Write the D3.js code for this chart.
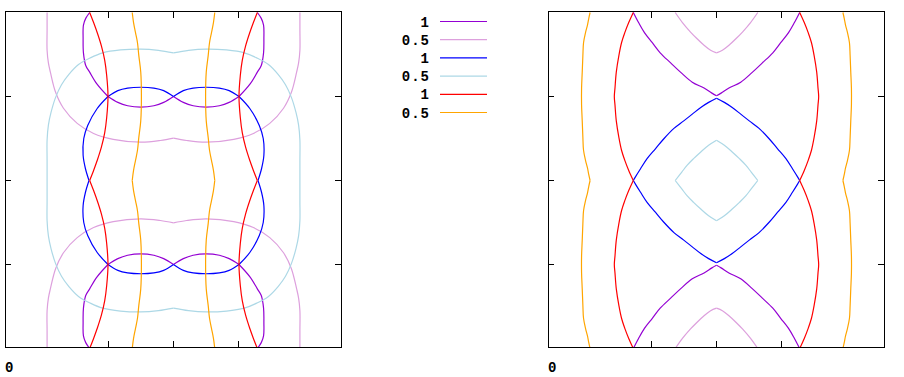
<!DOCTYPE html>
<html>
<head>
<meta charset="utf-8">
<script src="https://d3js.org/d3.v7.min.js"></script>
<style>
  body { margin: 0; background: #ffffff; }
  text { font-family: "Liberation Mono", "DejaVu Sans Mono", monospace; font-weight: bold; font-size: 14px; letter-spacing: 1px; fill: #000; }
</style>
</head>
<body>
<svg id="chart" width="904" height="377"></svg>
<script>

// Axis settings (no tick labels except the corner "0")
var xDomain = [-2.565, 2.565];
var yDomain = [-2, 2];
var xTicks = [-1, 0, 1];
var yTicks = [-1, 0, 1];
var cornerLabel = '0';

// Contour levels as shown in the key
var levelLabels = ['1', '0.5', '1', '0.5', '1', '0.5'];

// ---- Left panel contours, one list of pieces per level ----
var leftPurple = [
  [[-1.28,2],[-1.34,1.93],[-1.375,1.85],[-1.38,1.69],[-1.375,1.52],[-1.34,1.37],[-1.28,1.29],[-1.17,1.15],[-1,1]],
  [[-1,1],[-0.85,0.93],[-0.7,0.89],[-0.5,0.873],[-0.3,0.89],[-0.15,0.93],[0,1]],
  [[0,1],[0.15,0.93],[0.3,0.89],[0.5,0.873],[0.7,0.89],[0.85,0.93],[1,1]],
  [[1,1],[1.17,1.15],[1.28,1.29],[1.34,1.37],[1.375,1.52],[1.38,1.69],[1.375,1.85],[1.34,1.93],[1.28,2]],
  [[-1.28,-2],[-1.34,-1.93],[-1.375,-1.85],[-1.38,-1.69],[-1.375,-1.52],[-1.34,-1.37],[-1.28,-1.29],[-1.17,-1.15],[-1,-1]],
  [[-1,-1],[-0.85,-0.93],[-0.7,-0.89],[-0.5,-0.873],[-0.3,-0.89],[-0.15,-0.93],[0,-1]],
  [[0,-1],[0.15,-0.93],[0.3,-0.89],[0.5,-0.873],[0.7,-0.89],[0.85,-0.93],[1,-1]],
  [[1,-1],[1.17,-1.15],[1.28,-1.29],[1.34,-1.37],[1.375,-1.52],[1.38,-1.69],[1.375,-1.85],[1.34,-1.93],[1.28,-2]]
];

var leftPink = [
  [[-1.93,2],[-1.93,1.79],[-1.93,1.55],[-1.91,1.4],[-1.88,1.29],[-1.8,1.05],[-1.68,0.86],[-1.47,0.68],[-1.22,0.56],[-0.92,0.49],[-0.5,0.456],[-0.2,0.476],[0,0.504]],
  [[0,0.504],[0.2,0.476],[0.5,0.456],[0.92,0.49],[1.22,0.56],[1.47,0.68],[1.68,0.86],[1.8,1.05],[1.88,1.29],[1.91,1.4],[1.93,1.55],[1.93,1.79],[1.93,2]],
  [[-1.93,-2],[-1.93,-1.79],[-1.93,-1.55],[-1.91,-1.4],[-1.88,-1.29],[-1.8,-1.05],[-1.68,-0.86],[-1.47,-0.68],[-1.22,-0.56],[-0.92,-0.49],[-0.5,-0.456],[-0.2,-0.476],[0,-0.504]],
  [[0,-0.504],[0.2,-0.476],[0.5,-0.456],[0.92,-0.49],[1.22,-0.56],[1.47,-0.68],[1.68,-0.86],[1.8,-1.05],[1.88,-1.29],[1.91,-1.4],[1.93,-1.55],[1.93,-1.79],[1.93,-2]]
];

var leftBlue = [
  [[0,1],[-0.15,1.07],[-0.3,1.1],[-0.5,1.11],[-0.7,1.1],[-0.85,1.07],[-1,1]],
  [[-1,1],[-1.165,0.857],[-1.31,0.655],[-1.37,0.5],[-1.38,0.3],[-1.345,0.143],[-1.29,0]],
  [[-1.29,0],[-1.345,-0.143],[-1.38,-0.3],[-1.37,-0.5],[-1.31,-0.655],[-1.165,-0.857],[-1,-1]],
  [[-1,-1],[-0.85,-1.07],[-0.7,-1.1],[-0.5,-1.11],[-0.3,-1.1],[-0.15,-1.07],[0,-1]],
  [[0,-1],[0.15,-1.07],[0.3,-1.1],[0.5,-1.11],[0.7,-1.1],[0.85,-1.07],[1,-1]],
  [[1,-1],[1.165,-0.857],[1.31,-0.655],[1.37,-0.5],[1.38,-0.3],[1.345,-0.143],[1.29,0]],
  [[1.29,0],[1.345,0.143],[1.38,0.3],[1.37,0.5],[1.31,0.655],[1.165,0.857],[1,1]],
  [[1,1],[0.85,1.07],[0.7,1.1],[0.5,1.11],[0.3,1.1],[0.15,1.07],[0,1]]
];

var leftLightBlue = [
  [[0,1.52],[-0.23,1.55],[-0.5,1.565],[-0.81,1.554],[-1.08,1.52],[-1.27,1.46],[-1.45,1.38],[-1.6,1.26],[-1.71,1.14],[-1.8,0.99],[-1.87,0.81],[-1.91,0.66],[-1.93,0.48],[-1.93,0.24],[-1.93,0],
   [-1.93,-0.24],[-1.93,-0.48],[-1.91,-0.66],[-1.87,-0.81],[-1.8,-0.99],[-1.71,-1.14],[-1.6,-1.26],[-1.45,-1.38],[-1.27,-1.46],[-1.08,-1.52],[-0.81,-1.554],[-0.5,-1.565],[-0.23,-1.55],[0,-1.52]],
  [[0,1.52],[0.23,1.55],[0.5,1.565],[0.81,1.554],[1.08,1.52],[1.27,1.46],[1.45,1.38],[1.6,1.26],[1.71,1.14],[1.8,0.99],[1.87,0.81],[1.91,0.66],[1.93,0.48],[1.93,0.24],[1.93,0],
   [1.93,-0.24],[1.93,-0.48],[1.91,-0.66],[1.87,-0.81],[1.8,-0.99],[1.71,-1.14],[1.6,-1.26],[1.45,-1.38],[1.27,-1.46],[1.08,-1.52],[0.81,-1.554],[0.5,-1.565],[0.23,-1.55],[0,-1.52]]
];

var leftRed = [
  [[-1.28,2],[-1.22,1.88],[-1.16,1.75],[-1.1,1.6],[-1.05,1.43],[-1.02,1.25],[-1,1],[-1.02,0.75],[-1.05,0.57],[-1.1,0.4],[-1.16,0.25],[-1.22,0.12],[-1.28,0]],
  [[-1.28,0],[-1.22,-0.12],[-1.16,-0.25],[-1.1,-0.4],[-1.05,-0.57],[-1.02,-0.75],[-1,-1],[-1.02,-1.25],[-1.05,-1.43],[-1.1,-1.6],[-1.16,-1.75],[-1.22,-1.88],[-1.28,-2]],
  [[1.28,2],[1.22,1.88],[1.16,1.75],[1.1,1.6],[1.05,1.43],[1.02,1.25],[1,1],[1.02,0.75],[1.05,0.57],[1.1,0.4],[1.16,0.25],[1.22,0.12],[1.28,0]],
  [[1.28,0],[1.22,-0.12],[1.16,-0.25],[1.1,-0.4],[1.05,-0.57],[1.02,-0.75],[1,-1],[1.02,-1.25],[1.05,-1.43],[1.1,-1.6],[1.16,-1.75],[1.22,-1.88],[1.28,-2]]
];

var leftOrange = [
  [[-0.63,2],[-0.61,1.88],[-0.58,1.76],[-0.55,1.64],[-0.53,1.49],[-0.5,1.29],[-0.49,1],[-0.5,0.71],[-0.53,0.51],[-0.55,0.36],[-0.58,0.24],[-0.61,0.12],[-0.63,0]],
  [[-0.63,0],[-0.61,-0.12],[-0.58,-0.24],[-0.55,-0.36],[-0.53,-0.51],[-0.5,-0.71],[-0.49,-1],[-0.5,-1.29],[-0.53,-1.49],[-0.55,-1.64],[-0.58,-1.76],[-0.61,-1.88],[-0.63,-2]],
  [[0.63,2],[0.61,1.88],[0.58,1.76],[0.55,1.64],[0.53,1.49],[0.5,1.29],[0.49,1],[0.5,0.71],[0.53,0.51],[0.55,0.36],[0.58,0.24],[0.61,0.12],[0.63,0]],
  [[0.63,0],[0.61,-0.12],[0.58,-0.24],[0.55,-0.36],[0.53,-0.51],[0.5,-0.71],[0.49,-1],[0.5,-1.29],[0.53,-1.49],[0.55,-1.64],[0.58,-1.76],[0.61,-1.88],[0.63,-2]]
];

// ---- Right panel contours ----
var rightPurple = [
  [[-1.27,2],[-1.19,1.88],[-1.1,1.76],[-0.98,1.64],[-0.86,1.52],[-0.7,1.4],[-0.55,1.29],[-0.37,1.17],[-0.19,1.1],[-0.07,1.04],[0,1.01]],
  [[0,1.01],[0.07,1.04],[0.19,1.1],[0.37,1.17],[0.55,1.29],[0.7,1.4],[0.86,1.52],[0.98,1.64],[1.1,1.76],[1.19,1.88],[1.27,2]],
  [[-1.27,-2],[-1.19,-1.88],[-1.1,-1.76],[-0.98,-1.64],[-0.86,-1.52],[-0.7,-1.4],[-0.55,-1.29],[-0.37,-1.17],[-0.19,-1.1],[-0.07,-1.04],[0,-1.01]],
  [[0,-1.01],[0.07,-1.04],[0.19,-1.1],[0.37,-1.17],[0.55,-1.29],[0.7,-1.4],[0.86,-1.52],[0.98,-1.64],[1.1,-1.76],[1.19,-1.88],[1.27,-2]]
];

var rightPink = [
  [[-0.63,2],[-0.52,1.88],[-0.4,1.77],[-0.3,1.69],[-0.19,1.61],[-0.09,1.55],[0,1.52]],
  [[0,1.52],[0.09,1.55],[0.19,1.61],[0.3,1.69],[0.4,1.77],[0.52,1.88],[0.63,2]],
  [[-0.63,-2],[-0.52,-1.88],[-0.4,-1.77],[-0.3,-1.69],[-0.19,-1.61],[-0.09,-1.55],[0,-1.52]],
  [[0,-1.52],[0.09,-1.55],[0.19,-1.61],[0.3,-1.69],[0.4,-1.77],[0.52,-1.88],[0.63,-2]]
];

var rightBlue = [
  [[0,0.98],[-0.12,0.93],[-0.24,0.87],[-0.37,0.79],[-0.5,0.71],[-0.65,0.62],[-0.8,0.5],[-0.93,0.38],[-1.06,0.26],[-1.16,0.14],[-1.24,0.04],[-1.27,0]],
  [[-1.27,0],[-1.24,-0.04],[-1.16,-0.14],[-1.06,-0.26],[-0.93,-0.38],[-0.8,-0.5],[-0.65,-0.62],[-0.5,-0.71],[-0.37,-0.79],[-0.24,-0.87],[-0.12,-0.93],[0,-0.98]],
  [[0,-0.98],[0.12,-0.93],[0.24,-0.87],[0.37,-0.79],[0.5,-0.71],[0.65,-0.62],[0.8,-0.5],[0.93,-0.38],[1.06,-0.26],[1.16,-0.14],[1.24,-0.04],[1.27,0]],
  [[1.27,0],[1.24,0.04],[1.16,0.14],[1.06,0.26],[0.93,0.38],[0.8,0.5],[0.65,0.62],[0.5,0.71],[0.37,0.79],[0.24,0.87],[0.12,0.93],[0,0.98]]
];

var rightLightBlue = [
  [[0,0.48],[-0.12,0.42],[-0.24,0.34],[-0.35,0.26],[-0.45,0.18],[-0.53,0.1],[-0.63,0]],
  [[-0.63,0],[-0.53,-0.1],[-0.45,-0.18],[-0.35,-0.26],[-0.24,-0.34],[-0.12,-0.42],[0,-0.48]],
  [[0,-0.48],[0.12,-0.42],[0.24,-0.34],[0.35,-0.26],[0.45,-0.18],[0.53,-0.1],[0.63,0]],
  [[0.63,0],[0.53,0.1],[0.45,0.18],[0.35,0.26],[0.24,0.34],[0.12,0.42],[0,0.48]]
];

var rightRed = [
  [[-1.27,2],[-1.34,1.88],[-1.4,1.76],[-1.45,1.64],[-1.49,1.49],[-1.53,1.29],[-1.55,1.1],[-1.56,1],[-1.55,0.9],[-1.53,0.71],[-1.49,0.51],[-1.45,0.36],[-1.4,0.24],[-1.34,0.12],[-1.27,0]],
  [[-1.27,0],[-1.34,-0.12],[-1.4,-0.24],[-1.45,-0.36],[-1.49,-0.51],[-1.53,-0.71],[-1.55,-0.9],[-1.56,-1],[-1.55,-1.1],[-1.53,-1.29],[-1.49,-1.49],[-1.45,-1.64],[-1.4,-1.76],[-1.34,-1.88],[-1.27,-2]],
  [[1.27,2],[1.34,1.88],[1.4,1.76],[1.45,1.64],[1.49,1.49],[1.53,1.29],[1.55,1.1],[1.56,1],[1.55,0.9],[1.53,0.71],[1.49,0.51],[1.45,0.36],[1.4,0.24],[1.34,0.12],[1.27,0]],
  [[1.27,0],[1.34,-0.12],[1.4,-0.24],[1.45,-0.36],[1.49,-0.51],[1.53,-0.71],[1.55,-0.9],[1.56,-1],[1.55,-1.1],[1.53,-1.29],[1.49,-1.49],[1.45,-1.64],[1.4,-1.76],[1.34,-1.88],[1.27,-2]]
];

var rightOrange = [
  [[-1.93,2],[-1.95,1.93],[-1.97,1.85],[-2,1.76],[-2.03,1.64],[-2.04,1.49],[-2.05,1.29],[-2.06,1.1],[-2.06,0.9],[-2.05,0.71],[-2.04,0.51],[-2.03,0.36],[-2,0.24],[-1.97,0.15],[-1.95,0.07],[-1.93,0]],
  [[-1.93,0],[-1.95,-0.07],[-1.97,-0.15],[-2,-0.24],[-2.03,-0.36],[-2.04,-0.51],[-2.05,-0.71],[-2.06,-0.9],[-2.06,-1.1],[-2.05,-1.29],[-2.04,-1.49],[-2.03,-1.64],[-2,-1.76],[-1.97,-1.85],[-1.95,-1.93],[-1.93,-2]],
  [[1.93,2],[1.95,1.93],[1.97,1.85],[2,1.76],[2.03,1.64],[2.04,1.49],[2.05,1.29],[2.06,1.1],[2.06,0.9],[2.05,0.71],[2.04,0.51],[2.03,0.36],[2,0.24],[1.97,0.15],[1.95,0.07],[1.93,0]],
  [[1.93,0],[1.95,-0.07],[1.97,-0.15],[2,-0.24],[2.03,-0.36],[2.04,-0.51],[2.05,-0.71],[2.06,-0.9],[2.06,-1.1],[2.05,-1.29],[2.04,-1.49],[2.03,-1.64],[2,-1.76],[1.97,-1.85],[1.95,-1.93],[1.93,-2]]
];

// Line colours, in plotting order (same order as the key)
var lineColors = ['#9400d3', '#dda0dd', '#0000ff', '#add8e6', '#ff0000', '#ffa500'];

var svg = d3.select('#chart');
var plotSize = 336;

drawPanel(5, [leftPurple, leftPink, leftBlue, leftLightBlue, leftRed, leftOrange], 'clipLeft');
drawPanel(548, [rightPurple, rightPink, rightBlue, rightLightBlue, rightRed, rightOrange], 'clipRight');
drawKey(440, 21.5);


function drawPanel(left, levels, clipId) {
  var x = d3.scaleLinear().domain(xDomain).range([left, left + plotSize]);
  var y = d3.scaleLinear().domain(yDomain).range([348, 12]);

  var line = d3.line()
               .x(function(d) { return x(d[0]) + 0.5; })
               .y(function(d) { return y(d[1]) + 0.5; })
               .curve(d3.curveCatmullRom.alpha(0.5));

  // Clip contours to the frame
  svg.append('clipPath')
     .attr('id', clipId)
     .append('rect')
     .attr('x', left)
     .attr('y', 11)
     .attr('width', plotSize + 1)
     .attr('height', plotSize + 1);

  var g = svg.append('g').attr('clip-path', 'url(#' + clipId + ')');

  // One group per contour level, each piece is its own path
  levels.forEach(function(pieces, i) {
    g.append('g')
     .selectAll('path')
     .data(pieces)
     .join('path')
     .attr('d', line)
     .attr('fill', 'none')
     .attr('stroke', lineColors[i])
     .attr('stroke-width', 1.2);
  });

  // Mirrored ticks on all four sides, pointing inwards
  var axes = [
    {axis: d3.axisBottom(x).tickValues(xTicks), at: 'translate(0,347)'},
    {axis: d3.axisTop(x).tickValues(xTicks), at: 'translate(0,12)'},
    {axis: d3.axisLeft(y).tickValues(yTicks), at: 'translate(' + left + ',0)'},
    {axis: d3.axisRight(y).tickValues(yTicks), at: 'translate(' + (left + plotSize) + ',0)'}
  ];
  axes.forEach(function(a) {
    var ag = svg.append('g')
                .attr('transform', a.at)
                .attr('shape-rendering', 'crispEdges')
                .call(a.axis.tickSize(-6).tickFormat(''));
    ag.select('.domain').remove();
    ag.selectAll('.tick line').attr('stroke', '#000');
  });

  // Frame
  svg.append('rect')
     .attr('x', left + 0.5)
     .attr('y', 11.5)
     .attr('width', plotSize)
     .attr('height', plotSize)
     .attr('fill', 'none')
     .attr('stroke', '#000')
     .attr('stroke-width', 1)
     .attr('shape-rendering', 'crispEdges');

  // Lone corner label under the frame
  svg.append('text')
     .attr('x', left)
     .attr('y', 372)
     .text(cornerLabel);
} // End of drawPanel() function


function drawKey(lineX, top) {
  var rowStep = 18.2;
  var key = svg.append('g');

  levelLabels.forEach(function(label, i) {
    var rowY = top + i * rowStep;
    key.append('text')
       .attr('x', 430)
       .attr('y', rowY + 5)
       .attr('text-anchor', 'end')
       .text(label);
    key.append('line')
       .attr('x1', lineX)
       .attr('x2', lineX + 47)
       .attr('y1', rowY)
       .attr('y2', rowY)
       .attr('stroke', lineColors[i])
       .attr('stroke-width', 1.2);
  });
} // End of drawKey() function

</script>
</body>
</html>
